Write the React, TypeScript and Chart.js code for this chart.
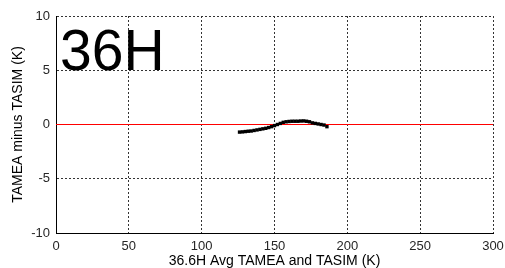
import React, { useEffect, useRef } from "react";
import { Chart, registerables } from "chart.js";

Chart.register(...registerables);

const xValues = [126, 128, 130, 132, 134, 136, 138, 140, 142, 144, 146, 148, 150, 152, 154, 156, 158, 160, 162, 164, 166, 168, 170, 172, 174, 176, 178, 180, 182, 184, 186];
const yValues = [-0.7, -0.68, -0.65, -0.62, -0.6, -0.55, -0.5, -0.45, -0.4, -0.35, -0.28, -0.2, -0.1, 0.0, 0.1, 0.2, 0.25, 0.28, 0.3, 0.3, 0.3, 0.32, 0.33, 0.3, 0.25, 0.15, 0.1, 0.05, 0.0, -0.05, -0.2];
const refLineX = [0, 300];
const refLineY = [0, 0];
const xTicks = [0, 50, 100, 150, 200, 250, 300];
const yTicks = [-10, -5, 0, 5, 10];
const panelLabel = "36H";
const xTitle = "36.6H Avg TAMEA and TASIM (K)";
const yTitle = "TAMEA minus TASIM (K)";

const FONT = "'Liberation Sans', Arial, sans-serif";

const labelPlugin = {
  id: "panelLabel",
  afterDraw(chart: any) {
    const { ctx, chartArea } = chart;
    ctx.save();
    ctx.font = `57px ${FONT}`;
    ctx.fillStyle = "#000";
    ctx.textBaseline = "alphabetic";
    ctx.textAlign = "left";
    ctx.fillText(panelLabel, chartArea.left + 4, 70);
    ctx.restore();
  },
};

export default function App() {
  const ref = useRef<HTMLCanvasElement>(null);
  useEffect(() => {
    document.body.style.margin = "0";
    const chart = new Chart(ref.current!, {
      type: "scatter",
      data: {
        datasets: [
          {
            type: "line",
            data: refLineX.map((x, i) => ({ x, y: refLineY[i] })),
            borderColor: "#ff0000",
            borderWidth: 1,
            pointRadius: 0,
            fill: false,
            order: 2,
          },
          {
            data: xValues.map((x, i) => ({ x, y: yValues[i] })),
            pointStyle: "rect",
            pointRadius: 2.4,
            backgroundColor: "#000",
            borderWidth: 0,
            order: 1,
          },
        ],
      },
      options: {
        animation: false,
        responsive: false,
        layout: { padding: { top: 16, right: 12, left: 0, bottom: 0 } },
        plugins: { legend: { display: false }, tooltip: { enabled: false } },
        scales: {
          x: {
            type: "linear",
            min: 0,
            max: 300,
            afterBuildTicks: (s: any) => {
              s.ticks = xTicks.map((v) => ({ value: v }));
            },
            afterFit: (s: any) => {
              s.height = 35;
              s.paddingRight = 0;
              s.paddingLeft = 0;
            },
            grid: { color: "#333", drawTicks: false, lineWidth: 1 },
            border: { display: true, color: "#000", width: 1, dash: [2, 2] },
            ticks: { color: "#262626", font: { family: FONT, size: 13 }, padding: 6, maxRotation: 0 },
            title: { display: true, text: xTitle, color: "#000", font: { family: FONT, size: 14 }, padding: { top: 0, bottom: -2 } },
          },
          y: {
            type: "linear",
            min: -10,
            max: 10,
            afterBuildTicks: (s: any) => {
              s.ticks = yTicks.map((v) => ({ value: v }));
            },
            afterFit: (s: any) => {
              s.width = 56;
              s.paddingTop = 0;
              s.paddingBottom = 0;
            },
            grid: { color: "#333", drawTicks: false, lineWidth: 1 },
            border: { display: true, color: "#000", width: 1, dash: [2, 2] },
            ticks: { color: "#262626", font: { family: FONT, size: 13 }, padding: 6 },
            title: { display: true, text: yTitle, color: "#000", font: { family: FONT, size: 14 }, padding: { top: 10, bottom: 4 } },
          },
        },
      },
      plugins: [labelPlugin],
    } as any);
    return () => chart.destroy();
  }, []);
  return (
    <div style={{ width: 505, height: 268 }}>
      <canvas ref={ref} width={505} height={268} />
    </div>
  );
}
